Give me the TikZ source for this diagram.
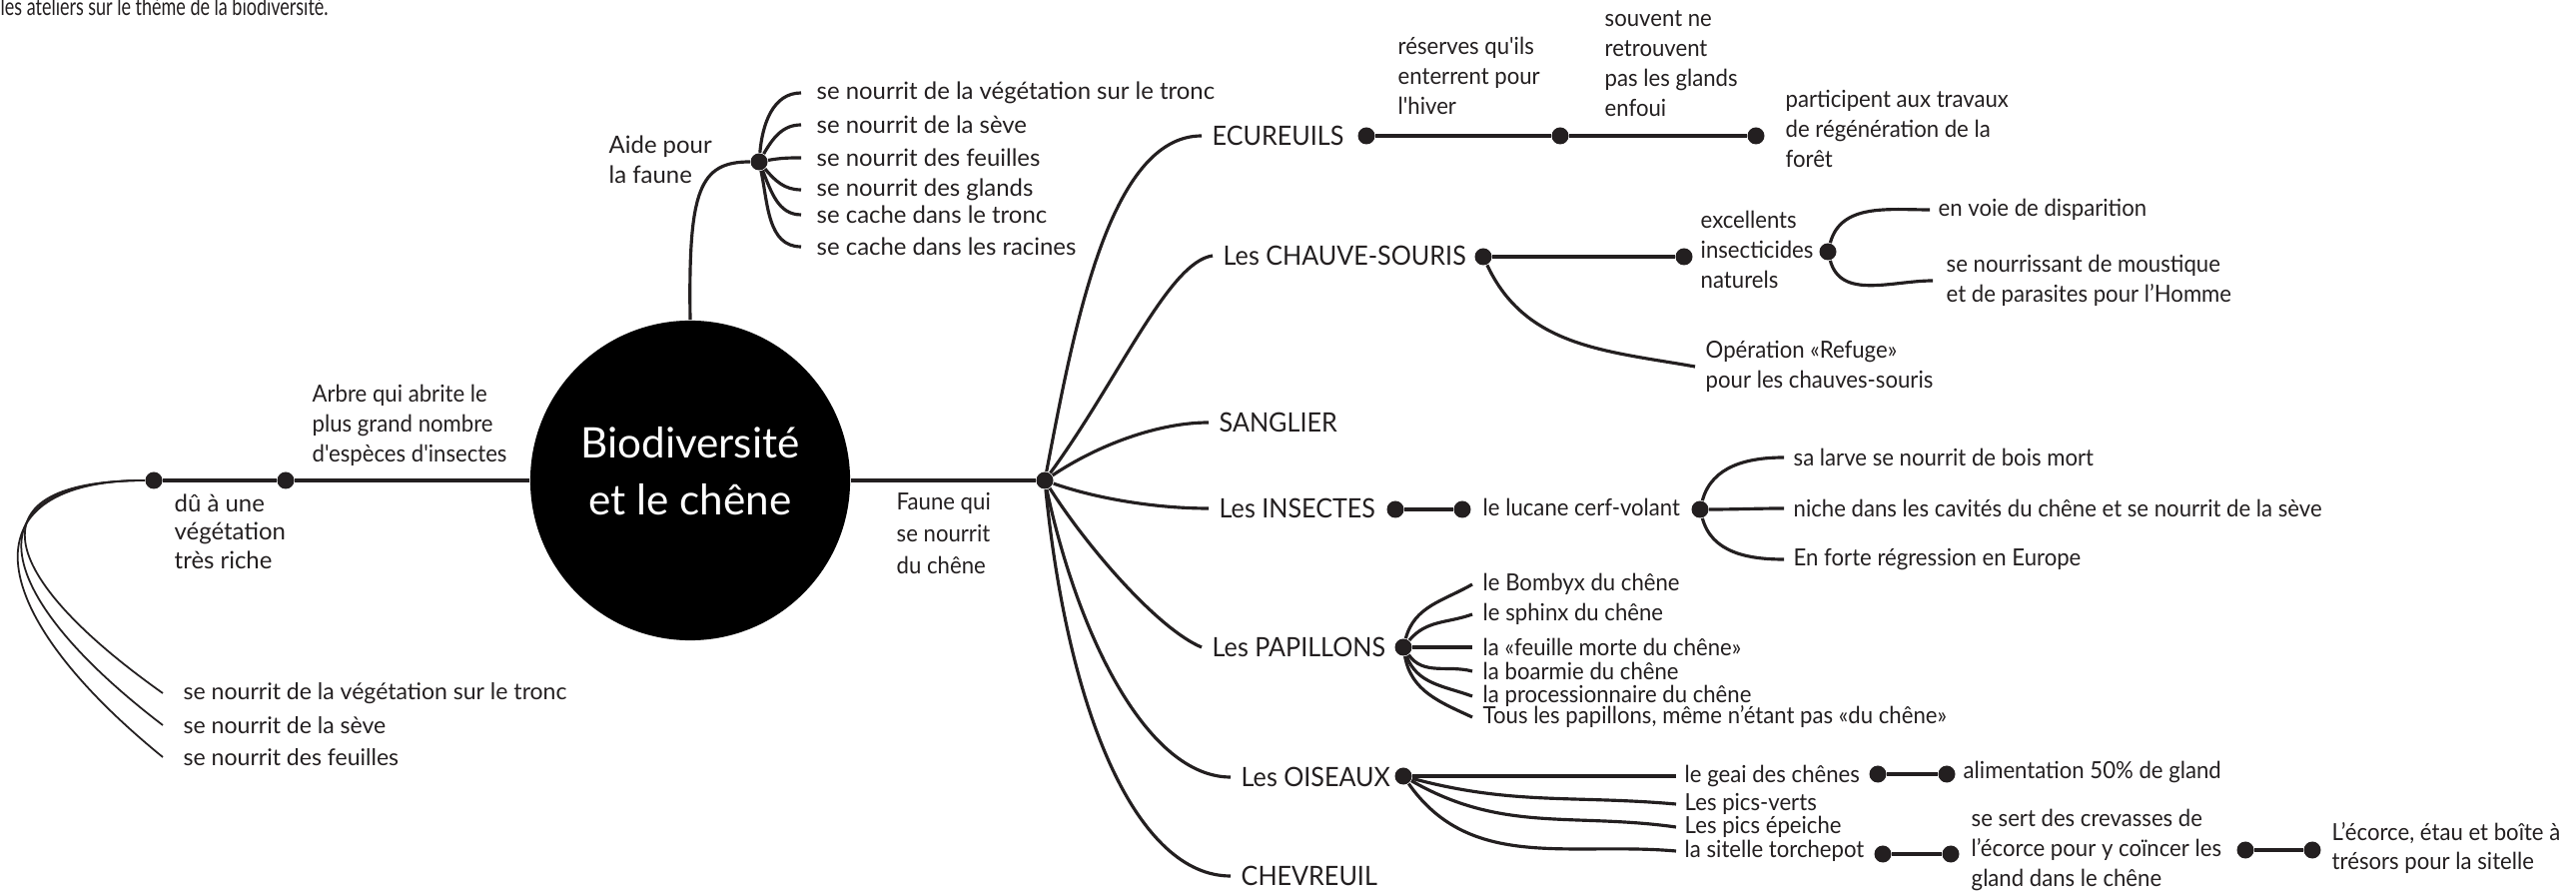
\documentclass[tikz,border=0pt]{standalone}
\usepackage{fontspec}
\setmainfont{Lato}
\newfontfamily\narrowfont{Lato}[FakeStretch=0.94]
\newfontfamily\headfont{Lato}[FakeStretch=0.73]
\usetikzlibrary{positioning}

\definecolor{ink}{HTML}{231F20}

\begin{document}
\begin{tikzpicture}[x=0.01cm, y=-0.01cm,
	every bullet/.style={circle, fill=ink, inner sep=0pt, minimum size=0.17cm},
	every twig/.style={draw=ink, line width=0.9pt},
	fine twig/.style={draw=ink, line width=0.5pt},
	every leaf/.style={font=\narrowfont\fontsize{6.7}{8.5}\selectfont, text=ink, align=left, inner ysep=0pt, inner xsep=0.1cm, anchor=west},
	plain leaf/.style={every leaf, font=\fontsize{6.8}{8.5}\selectfont},
	every group/.style={font=\narrowfont\fontsize{7.6}{9}\selectfont, text=ink, inner ysep=0pt, inner xsep=0.1cm, anchor=west}]
\useasboundingbox (0,0) rectangle (2579,895);

% header
\node [anchor=base west, inner sep=0pt, font=\headfont\fontsize{7}{8}\selectfont, text=ink] (header) at (0,16) {les ateliers sur le thème de la biodiversité.};

% centre
\node [circle, fill=black, minimum size=3.2cm, inner sep=0pt] (centre) at (691,481) {};
\node [align=center, text=white, inner sep=0pt, font=\fontsize{12}{16.2}\selectfont] (centre-txt) at (691,472) {Biodiversité\\et le chêne};

% left branch
\node [every bullet/.try] (arbre) at (286,481) {};
\node [every bullet/.try] (veg) at (154,481) {};
\draw [every twig/.try] (centre.west) -- (arbre) -- (veg);
\node [every leaf/.try, inner xsep=0pt] (arbre-txt) at (312,426) {Arbre qui abrite le\\plus grand nombre\\d'espèces d'insectes};
\node [plain leaf, inner xsep=0pt, font=\fontsize{6.8}{8.1}\selectfont] (veg-txt) at (174,532) {dû à une\\végétation\\très riche};
\foreach \lbl/\k [count=\i] in {se nourrit de la végétation sur le tronc/5, se nourrit de la sève/15, se nourrit des feuilles/25}
{
	\node [plain leaf, inner xsep=0.2cm, font=\fontsize{6.55}{8}\selectfont] (veg-\i) at (163,662+\i*32) {\lbl};
	\draw [fine twig/.try] (veg) .. controls (-30,481) and (-\k,560+\i*15) .. (veg-\i.west);
}

% top branch
\node [every bullet/.try] (aide) at (760,162) {};
\draw [every twig/.try] (centre.north) .. controls (689,190) and (700,162) .. (aide);
\node [plain leaf, inner xsep=0pt] (aide-txt) at (609,160) {Aide pour\\la faune};
\foreach \lbl/\y/\ang [count=\i] in {se nourrit de la végétation sur le tronc/93/85, se nourrit de la sève/125/60, se nourrit des feuilles/158/10, se nourrit des glands/190/-50, se cache dans le tronc/215/-68, se cache dans les racines/247/-78}
{
	\node [plain leaf, inner xsep=0.15cm] (aide-\i) at (802,\y) {\lbl};
	\draw [every twig/.try] (aide) to [out=\ang, in=180] (aide-\i.west);
}

% right branch
\node [every bullet/.try] (hub) at (1046,481) {};
\draw [every twig/.try] (centre.east) -- (hub);
\node [every leaf/.try, inner xsep=0pt, font=\narrowfont\fontsize{6.7}{9.1}\selectfont] (faune-txt) at (897,534) {Faune qui\\se nourrit\\du chêne};

% groups
\node [every group/.try] (ecur) at (1203,136) {ECUREUILS};
\node [every group/.try] (chauve) at (1214,256) {Les CHAUVE-SOURIS};
\node [every group/.try] (sang) at (1210,423) {SANGLIER};
\node [every group/.try] (ins) at (1210,509) {Les INSECTES};
\node [every group/.try] (pap) at (1203,648) {Les PAPILLONS};
\node [every group/.try] (ois) at (1232,778) {Les OISEAUX};
\node [every group/.try] (chev) at (1232,877) {CHEVREUIL};

\draw [every twig/.try] (hub) .. controls (1075,330) and (1110,136) .. (ecur.west);
\draw [every twig/.try] (hub) .. controls (1120,380) and (1170,262) .. (chauve.west);
\draw [every twig/.try] (hub) .. controls (1100,445) and (1160,423) .. (sang.west);
\draw [every twig/.try] (hub) .. controls (1100,500) and (1160,509) .. (ins.west);
\draw [every twig/.try] (hub) .. controls (1090,550) and (1160,630) .. (pap.west);
\draw [every twig/.try] (hub) .. controls (1080,640) and (1150,778) .. (ois.west);
\draw [every twig/.try] (hub) .. controls (1070,720) and (1140,877) .. (chev.west);

% ecureuils
\node [every bullet/.try] (ecur-1) at (1368,136) {};
\node [every bullet/.try] (ecur-2) at (1562,136) {};
\node [every bullet/.try] (ecur-3) at (1758,136) {};
\draw [every twig/.try] (ecur-1) -- (ecur-2) -- (ecur-3);
\node [every leaf/.try, inner xsep=0pt] (ecur-a) at (1399,76) {réserves qu'ils\\enterrent pour\\l'hiver};
\node [every leaf/.try, inner xsep=0pt] (ecur-b) at (1606,64) {souvent ne\\retrouvent\\pas les glands\\enfoui};
\node [every leaf/.try, inner xsep=0pt] (ecur-c) at (1787,129) {participent aux travaux\\de régénération de la\\forêt};

% chauve-souris
\node [every bullet/.try] (chauve-1) at (1485,257) {};
\node [every bullet/.try] (chauve-2) at (1686,257) {};
\draw [every twig/.try] (chauve-1) -- (chauve-2);
\node [every leaf/.try, inner xsep=0pt] (chauve-a) at (1702,250) {excellents\\insecticides\\naturels};
\node [every bullet/.try] (chauve-3) at (1830,252) {};
\node [every leaf/.try, inner xsep=0.08cm] (chauve-b) at (1932,210) {en voie de disparition};
\node [every leaf/.try, inner xsep=0.13cm] (chauve-c) at (1935,281) {se nourrissant de moustique\\et de parasites pour l’Homme};
\node [every leaf/.try] (chauve-d) at (1697,367) {Opération «Refuge»\\pour les chauves-souris};
\draw [every twig/.try] (chauve-3) to [out=75, in=180] (chauve-b.west);
\draw [every twig/.try] (chauve-3) to [out=-75, in=180] (chauve-c.west);
\draw [every twig/.try] (chauve-1) to [out=-65, in=170] (chauve-d.west);

% insectes
\node [every bullet/.try] (ins-1) at (1397,510) {};
\node [every bullet/.try] (ins-2) at (1464,510) {};
\draw [every twig/.try] (ins-1) -- (ins-2);
\node [every leaf/.try] (ins-a) at (1474,508) {le lucane cerf-volant};
\node [every bullet/.try] (ins-3) at (1702,510) {};
\foreach \lbl/\y/\ang [count=\i] in {sa larve se nourrit de bois mort/458/75, niche dans les cavités du chêne et se nourrit de la sève/509/0, En forte régression en Europe/560/-75}
{
	\node [every leaf/.try, inner xsep=0.09cm] (ins-x\i) at (1786,\y) {\lbl};
	\draw [every twig/.try] (ins-3) to [out=\ang, in=180] (ins-x\i.west);
}

% papillons
\node [every bullet/.try] (pap-d) at (1405,648) {};
\foreach \lbl/\y/\ang/\angin [count=\i] in {le Bombyx du chêne/585/75/210, le sphinx du chêne/615/50/200, la «feuille morte du chêne»/648/0/180, la boarmie du chêne/672/-55/165, la processionnaire du chêne/697/-70/160, {Tous les papillons, même n’étant pas «du chêne»}/718/-80/155}
{
	\node [every leaf/.try] (pap-\i) at (1474,\y) {\lbl};
	\draw [every twig/.try] (pap-d) to [out=\ang, in=\angin] (pap-\i.west);
}

% oiseaux
\node [every bullet/.try] (ois-d) at (1405,777) {};
\foreach \lbl/\y/\ang/\angin [count=\i] in {le geai des chênes/777/0/180, Les pics-verts/805/-15/175, Les pics épeiche/828/-30/172, la sitelle torchepot/852/-55/175}
{
	\node [every leaf/.try, inner xsep=0.08cm] (ois-\i) at (1678,\y) {\lbl};
	\draw [every twig/.try] (ois-d) to [out=\ang, in=\angin] (ois-\i.west);
}
\node [every bullet/.try] (geai-1) at (1880,775) {};
\node [every bullet/.try] (geai-2) at (1949,775) {};
\draw [every twig/.try] (geai-1) -- (geai-2);
\node [every leaf/.try, inner xsep=0.08cm] (geai-a) at (1957,773) {alimentation 50\% de gland};
\node [every bullet/.try] (sit-1) at (1885,855) {};
\node [every bullet/.try] (sit-2) at (1953,855) {};
\draw [every twig/.try] (sit-1) -- (sit-2);
\node [every leaf/.try] (sit-a) at (1963,851) {se sert des crevasses de\\l’écorce pour y coïncer les\\gland dans le chêne};
\node [every bullet/.try] (sit-3) at (2248,851) {};
\node [every bullet/.try] (sit-4) at (2315,851) {};
\draw [every twig/.try] (sit-3) -- (sit-4);
\node [every leaf/.try] (sit-b) at (2324,849) {L’écorce, étau et boîte à\\trésors pour la sitelle};

\end{tikzpicture}
\end{document}
